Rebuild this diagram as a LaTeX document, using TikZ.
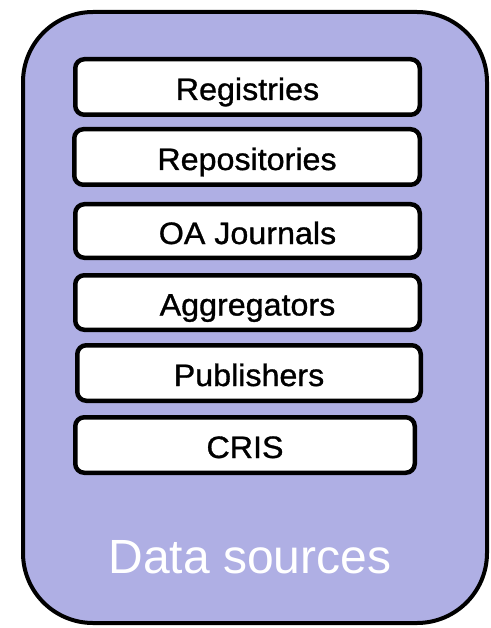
\documentclass[tikz,border=0pt]{standalone}
\usepackage{fontspec}
\setmainfont{Liberation Sans}
\newfontfamily\boxfont[FakeStretch=1.04,FakeBold=1]{Liberation Sans}
\definecolor{dsfill}{RGB}{175,175,228}
\begin{document}
\begin{tikzpicture}[x=1pt,y=-1pt,
  container/.style={draw=black,line width=4pt,fill=dsfill,rounded corners=70pt},
  srcbox/.style={draw=black,line width=4.5pt,fill=white,rounded corners=9pt,
    minimum height=55.5pt,inner sep=0pt,text height=26pt,text depth=0pt,
    font=\boxfont\fontsize{31}{33}\selectfont},
  title/.style={text=white,font=\fontsize{48}{52}\selectfont,anchor=base,inner sep=0pt}]
\useasboundingbox (0,0) rectangle (490,628);
\draw[container] (23,12) rectangle (487,623);
\node[srcbox,minimum width=344.5pt] (reg) at (247.5,87) {Registries};
\node[srcbox,minimum width=345.5pt] (rep) at (247,157) {Repositories};
\node[srcbox,minimum width=344.5pt,minimum height=53.5pt] (oaj) at (247.5,231) {OA Journals};
\node[srcbox,minimum width=344.5pt,minimum height=54.5pt] (agg) at (247.5,302.5) {Aggregators};
\node[srcbox,minimum width=343.5pt] (pub) at (249,373) {Publishers};
\node[srcbox,minimum width=339.5pt] (cris) at (245,445) {CRIS};
\node[title] (ds) at (250,573) {Data sources};
\end{tikzpicture}
\end{document}
